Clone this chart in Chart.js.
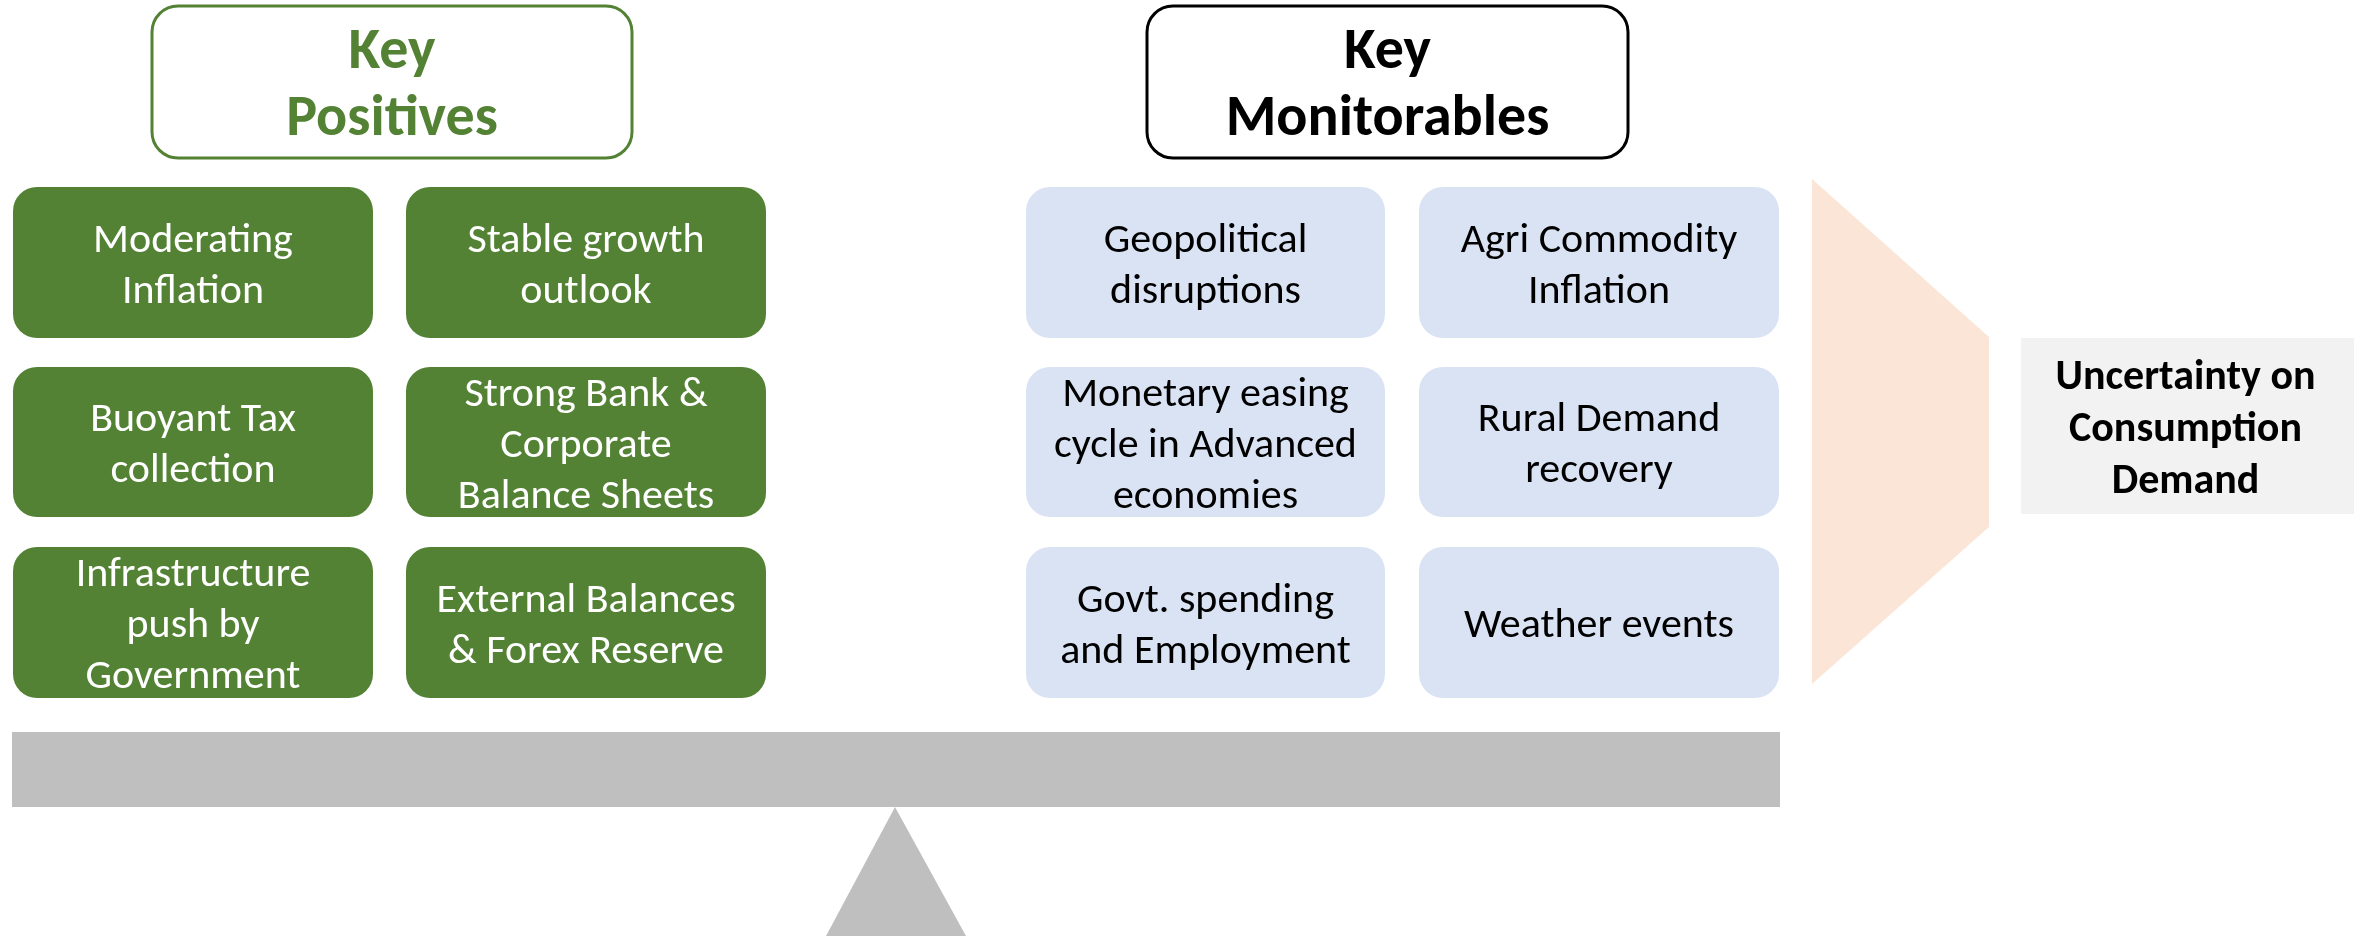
<!DOCTYPE html>
<html>
<head>
<meta charset="utf-8">
<script src="https://cdn.jsdelivr.net/npm/chart.js@4/dist/chart.umd.min.js"></script>
<style>
    html, body { margin: 0; padding: 0; background: #fff; overflow: hidden; }
    #wrap { width: 2354px; height: 936px; }
</style>
</head>
<body>
<div id="wrap"><canvas id="balanceChart" width="2354" height="936"></canvas></div>
<script>
// Balance diagram: key positives vs key monitorables

const headerLabels = ['Key\nPositives', 'Key\nMonitorables'];

// row-major, two columns per group
const positiveLabels = [
    'Moderating\nInflation',
    'Stable growth\noutlook',
    'Buoyant Tax\ncollection',
    'Strong Bank &\nCorporate\nBalance Sheets',
    'Infrastructure\npush by\nGovernment',
    'External Balances\n& Forex Reserve'
];

const monitorableLabels = [
    'Geopolitical\ndisruptions',
    'Agri Commodity\nInflation',
    'Monetary easing\ncycle in Advanced\neconomies',
    'Rural Demand\nrecovery',
    'Govt. spending\nand Employment',
    'Weather events'
];

const outcomeLabel = 'Uncertainty on\nConsumption\nDemand';

// layout in chart units (scale runs 0..2354 across, 0..936 down)
const layout = {
    headerY: [6, 158],
    headerX: [[152, 632], [1147, 1628]],
    rowsY: [[187, 338], [367, 517], [547, 698]],
    posColsX: [[13, 373], [406, 766]],
    monColsX: [[1026, 1385], [1419, 1779]],
    beam: { x: [12, 1780], y: [732, 807] },
    fulcrum: { apex: [895, 807], base: [826, 966], baseY: 936 },
    arrow: [[1812, 179], [1989, 337], [1989, 527], [1812, 684]],
    outcome: { x: [2021, 2354], y: [338, 514] }
};

const FONT = 'Carlito, Calibri, Lato, sans-serif';

function drawLines(ctx, text, cx, cy, lineH) {
    const lines = text.split('\n');
    const y0 = cy - (lines.length - 1) / 2 * lineH;
    lines.forEach((ln, i) => ctx.fillText(ln, cx, y0 + i * lineH));
}

const diagramPlugin = {
    id: 'diagram',
    afterDraw(chart) {
        const ctx = chart.ctx;
        const sx = chart.scales.x;
        const sy = chart.scales.y;
        const px = v => sx.getPixelForValue(v);
        const py = v => sy.getPixelForValue(v);

        function box(xr, yr, fill, stroke, radius, lw) {
            const x0 = px(xr[0]), x1 = px(xr[1]);
            const y0 = py(yr[0]), y1 = py(yr[1]);
            ctx.beginPath();
            ctx.roundRect(x0, y0, x1 - x0, y1 - y0, radius);
            if (fill) { ctx.fillStyle = fill; ctx.fill(); }
            if (stroke) { ctx.strokeStyle = stroke; ctx.lineWidth = lw; ctx.stroke(); }
            return [(x0 + x1) / 2, (y0 + y1) / 2];
        }

        ctx.save();
        ctx.textAlign = 'center';
        ctx.textBaseline = 'middle';

        // headers
        const headerColors = ['#548235', '#000000'];
        headerLabels.forEach((lbl, i) => {
            const c = box(layout.headerX[i], layout.headerY, '#ffffff', headerColors[i], 26, 3);
            ctx.fillStyle = headerColors[i];
            ctx.font = 'bold 58px ' + FONT;
            drawLines(ctx, lbl, c[0], c[1] + 5, 67);
        });

        // grid boxes
        positiveLabels.forEach((lbl, i) => {
            const r = Math.floor(i / 2), col = i % 2;
            const c = box(layout.posColsX[col], layout.rowsY[r], '#548235', null, 24, 0);
            ctx.fillStyle = '#ffffff';
            ctx.font = '42px ' + FONT;
            drawLines(ctx, lbl, c[0], c[1] + 4, 51);
        });
        monitorableLabels.forEach((lbl, i) => {
            const r = Math.floor(i / 2), col = i % 2;
            const c = box(layout.monColsX[col], layout.rowsY[r], '#DAE3F3', null, 24, 0);
            ctx.fillStyle = '#000000';
            ctx.font = '42px ' + FONT;
            drawLines(ctx, lbl, c[0], c[1] + 4, 51);
        });

        // beam
        box(layout.beam.x, layout.beam.y, '#BFBFBF', null, 0, 0);

        // fulcrum
        const f = layout.fulcrum;
        ctx.beginPath();
        ctx.moveTo(px(f.apex[0]), py(f.apex[1]));
        ctx.lineTo(px(f.base[1]), py(f.baseY));
        ctx.lineTo(px(f.base[0]), py(f.baseY));
        ctx.closePath();
        ctx.fillStyle = '#BFBFBF';
        ctx.fill();

        // arrow shape
        ctx.beginPath();
        layout.arrow.forEach((p, i) => {
            if (i === 0) ctx.moveTo(px(p[0]), py(p[1]));
            else ctx.lineTo(px(p[0]), py(p[1]));
        });
        ctx.closePath();
        ctx.fillStyle = '#FBE5D6';
        ctx.fill();

        // outcome box
        const oc = box(layout.outcome.x, layout.outcome.y, '#F2F2F2', null, 0, 0);
        ctx.fillStyle = '#000000';
        ctx.font = 'bold 42px ' + FONT;
        drawLines(ctx, outcomeLabel, oc[0] - 2, oc[1] + 4, 52);

        ctx.restore();
    }
};

const chart = new Chart(document.getElementById('balanceChart'), {
    type: 'scatter',
    data: { datasets: [{ data: [], pointRadius: 0 }] },
    options: {
        responsive: false,
        animation: false,
        devicePixelRatio: 1,
        layout: { padding: 0 },
        plugins: {
            legend: { display: false },
            tooltip: { enabled: false }
        },
        scales: {
            x: { type: 'linear', min: 0, max: 2354, display: false },
            y: { type: 'linear', min: 0, max: 936, reverse: true, display: false }
        }
    },
    plugins: [diagramPlugin]
});
</script>
</body>
</html>
